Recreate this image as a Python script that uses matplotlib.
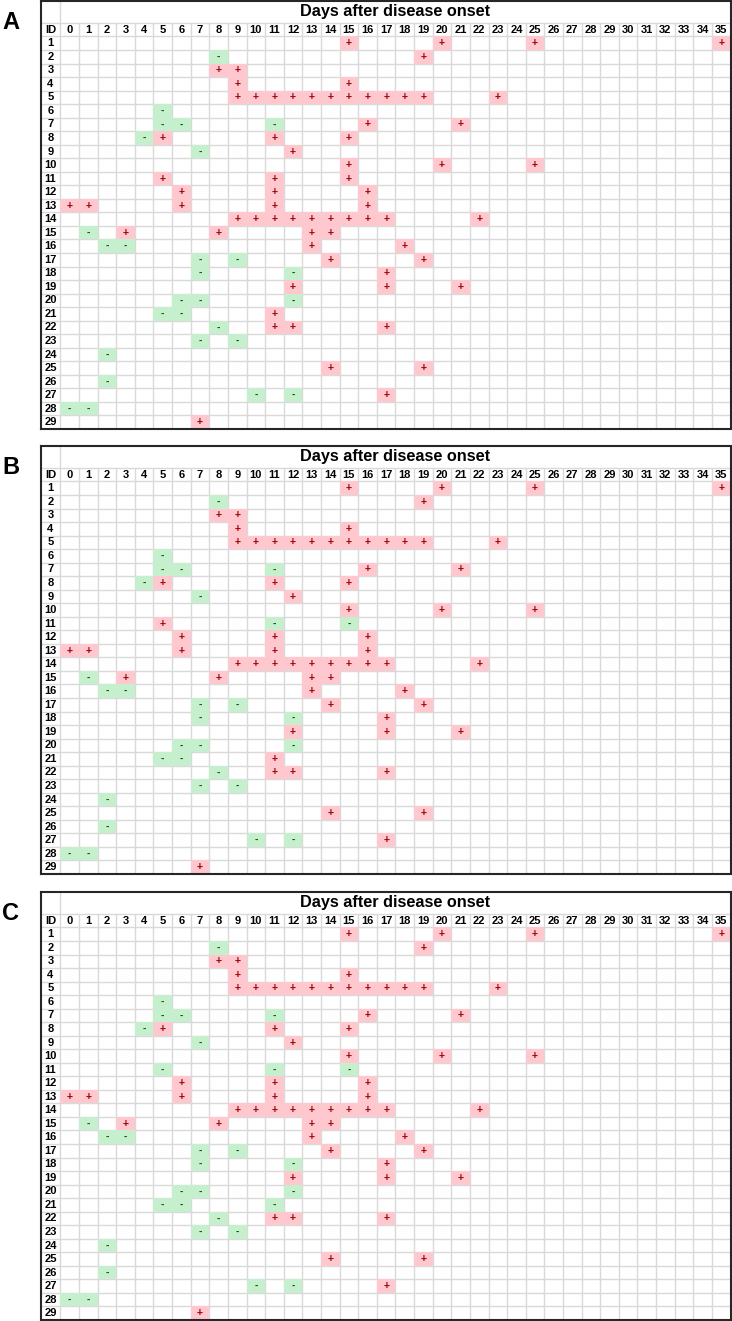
import matplotlib.pyplot as plt
import numpy as np
from matplotlib.colors import ListedColormap

plt.rcParams['font.family'] = ['Liberation Sans', 'DejaVu Sans']

# days after onset (columns) and patient IDs (rows)
days = list(range(36))
ids = list(range(1, 30))

# positive (+) results per patient, panel A
pos_A = [
    [15, 20, 25, 35],                          # 1
    [19],                                      # 2
    [8, 9],                                    # 3
    [9, 15],                                   # 4
    [9, 10, 11, 12, 13, 14, 15, 16, 17, 18, 19, 23],  # 5
    [],                                        # 6
    [16, 21],                                  # 7
    [5, 11, 15],                               # 8
    [12],                                      # 9
    [15, 20, 25],                              # 10
    [5, 11, 15],                               # 11
    [6, 11, 16],                               # 12
    [0, 1, 6, 11, 16],                         # 13
    [9, 10, 11, 12, 13, 14, 15, 16, 17, 22],   # 14
    [3, 8, 13, 14],                            # 15
    [13, 18],                                  # 16
    [14, 19],                                  # 17
    [17],                                      # 18
    [12, 17, 21],                              # 19
    [],                                        # 20
    [11],                                      # 21
    [11, 12, 17],                              # 22
    [],                                        # 23
    [],                                        # 24
    [14, 19],                                  # 25
    [],                                        # 26
    [17],                                      # 27
    [],                                        # 28
    [7],                                       # 29
]

# negative (-) results per patient, panel A
neg_A = [
    [], [8], [], [], [], [5], [5, 6, 11], [4], [7], [],
    [], [], [], [], [1], [2, 3], [7, 9], [7, 12], [], [6, 7, 12],
    [5, 6], [8], [7, 9], [2], [], [2], [10, 12], [0, 1], [],
]

# panel B: patient 11 changes
pos_B = [list(r) for r in pos_A]
neg_B = [list(r) for r in neg_A]
pos_B[10] = [5]
neg_B[10] = [11, 15]

# panel C: patients 11 and 21 change
pos_C = [list(r) for r in pos_A]
neg_C = [list(r) for r in neg_A]
pos_C[10] = []
neg_C[10] = [5, 11, 15]
pos_C[20] = []
neg_C[20] = [5, 6, 11]

title = "Days after disease onset"

pink, red_txt = '#ffc7ce', '#9c0006'
green, green_txt = '#c6efce', '#006100'
grid_col = '#d9d9d9'

W, H = 732, 1321
id_w = 1.07      # width of the ID column in day units
title_h = 1.62   # height of the title row in row units


def draw_panel(ax, pos, neg):
    status = np.zeros((len(ids), len(days)))
    for i in range(len(ids)):
        for d in neg[i]:
            status[i, d] = 1
        for d in pos[i]:
            status[i, d] = 2
    masked = np.ma.masked_equal(status, 0)
    ax.pcolormesh(np.arange(len(days) + 1), np.arange(1, len(ids) + 2), masked,
                  cmap=ListedColormap([green, pink]), vmin=0.5, vmax=2.5, zorder=2)

    # grid lines under the fills
    ax.hlines(np.arange(0, len(ids) + 1), -id_w, len(days), color=grid_col, lw=1.0, zorder=1)
    ax.vlines(np.arange(1, len(days)), 0, len(ids) + 1, color=grid_col, lw=1.0, zorder=1)
    ax.vlines(0, -title_h, len(ids) + 1, color=grid_col, lw=1.0, zorder=1)

    ax.text(len(days) / 2, -title_h / 2, title, ha='center', va='center',
            fontsize=11.7, fontweight='bold', zorder=3)
    ax.text(-id_w / 2, 0.5, 'ID', ha='center', va='center', fontsize=8,
            fontweight='bold', zorder=3)
    for d in days:
        ax.text(d + 0.5, 0.5, str(d), ha='center', va='center', fontsize=8,
                fontweight='bold', zorder=3)
    for i, pid in enumerate(ids):
        y = i + 1.5
        ax.text(-id_w / 2, y, str(pid), ha='center', va='center', fontsize=8,
                fontweight='bold', zorder=3)
        for d in pos[i]:
            ax.text(d + 0.5, y, '+', ha='center', va='center', fontsize=7.5,
                    fontweight='bold', color=red_txt, zorder=3)
        for d in neg[i]:
            ax.text(d + 0.5, y, '-', ha='center', va='center', fontsize=7.5,
                    fontweight='bold', color=green_txt, zorder=3)

    ax.set_xlim(-id_w, len(days))
    ax.set_ylim(len(ids) + 1, -title_h)
    ax.set_xticks([])
    ax.set_yticks([])
    for sp in ax.spines.values():
        sp.set_linewidth(1.5)
        sp.set_color('#262626')
        sp.set_zorder(4)


fig = plt.figure(figsize=(W / 100, H / 100), dpi=100)

panels = [('A', pos_A, neg_A, 1), ('B', pos_B, neg_B, 446), ('C', pos_C, neg_C, 892)]
panel_h = 428
for label, pos, neg, top in panels:
    ax = fig.add_axes([40.5 / W, 1 - (top + panel_h) / H, 690 / W, panel_h / H])
    draw_panel(ax, pos, neg)
    fig.text(2 / W, 1 - (top + 21.5) / H, label, fontsize=17, fontweight='bold',
             ha='left', va='center')

fig.savefig('out.png', dpi=100)
plt.close()
